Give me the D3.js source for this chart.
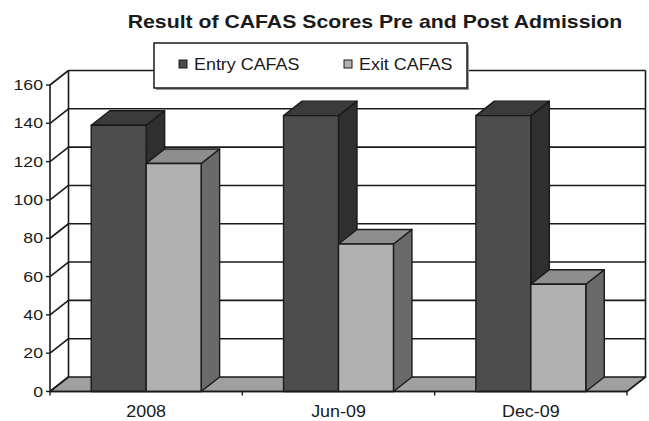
<!DOCTYPE html>
<html>
<head>
<meta charset="utf-8">
<script src="https://cdn.jsdelivr.net/npm/d3@7"></script>
<style>
  body { margin: 0; background: #fff; }
  svg text { font-family: "Liberation Sans", Arial, sans-serif; fill: #1a1a1a; }
</style>
</head>
<body>
<div id="chart"></div>
<script>
const categories  = ["2008", "Jun-09", "Dec-09"];
const seriesNames = ["Entry CAFAS", "Exit CAFAS"];
const entryValues = [139, 144, 144];
const exitValues  = [119, 77, 56];
const yTicks      = [0, 20, 40, 60, 80, 100, 120, 140, 160];

const W = 649, H = 421;
const PLOT = { left: 50, right: 627, top: 85, bottom: 391.5 };
const DX = 18.5, DY = -14.5;   // depth offset of the 3d box
const LINE = "#1a1a1a";

const COLORS = {
  "Entry CAFAS": { front: "#4d4d4d", top: "#3b3b3b", side: "#2f2f2f" },
  "Exit CAFAS":  { front: "#b0b1b0", top: "#8e8e8e", side: "#6a6a6a" }
};

const data = categories.map((c, i) => ({
  cat: c,
  values: [
    { series: seriesNames[0], value: entryValues[i] },
    { series: seriesNames[1], value: exitValues[i] }
  ]
}));

const svg = d3.select("#chart").append("svg")
  .attr("width", W).attr("height", H)
  .style("display", "block");

const x0 = d3.scaleBand().domain(categories).range([PLOT.left, PLOT.right]).padding(0);
const x1 = d3.scaleBand().domain(seriesNames).range([0, x0.bandwidth()])
  .paddingInner(0).paddingOuter(0.75);
const y = d3.scaleLinear().domain([0, 160]).range([PLOT.bottom, PLOT.top]);

const poly = pts => "M" + pts.map(p => p.join(",")).join("L") + "Z";

// ── Walls ──
const backL = PLOT.left + DX, backR = PLOT.right + DX;
svg.append("path")   // left wall
  .attr("d", poly([[PLOT.left, y(0)], [PLOT.left, y(160)], [backL, y(160) + DY], [backL, y(0) + DY]]))
  .attr("fill", "#fff");
svg.append("rect")   // back wall
  .attr("x", backL).attr("y", y(160) + DY)
  .attr("width", backR - backL).attr("height", y(0) - y(160))
  .attr("fill", "#fff");

// gridlines on back wall + left wall diagonals
const grid = svg.append("g").attr("stroke", LINE).attr("stroke-width", 1.6).attr("fill", "none");
grid.selectAll("line.back")
  .data(yTicks.filter(t => t > 0))
  .join("line")
  .attr("x1", backL).attr("x2", backR)
  .attr("y1", d => y(d) + DY).attr("y2", d => y(d) + DY);
grid.selectAll("line.diag")
  .data(yTicks)
  .join("line")
  .attr("x1", PLOT.left).attr("y1", d => y(d))
  .attr("x2", backL).attr("y2", d => y(d) + DY);
grid.append("line")
  .attr("x1", backL).attr("x2", backL).attr("y1", y(0) + DY).attr("y2", y(160) + DY);
grid.append("line")
  .attr("x1", backR).attr("x2", backR).attr("y1", y(0) + DY).attr("y2", y(160) + DY);

// ── Floor ──
svg.append("path")
  .attr("d", poly([[PLOT.left, y(0)], [PLOT.right, y(0)], [backR, y(0) + DY], [backL, y(0) + DY]]))
  .attr("fill", "#a0a0a0")
  .attr("stroke", LINE).attr("stroke-width", 1.6).attr("stroke-linejoin", "round");

// ── Bars ──
const barsG = svg.append("g")
  .attr("stroke", LINE).attr("stroke-width", 1.4).attr("stroke-linejoin", "round");

data.forEach(d => {
  d.values.forEach(v => {
    const xa = x0(d.cat) + x1(v.series);
    const xb = xa + x1.bandwidth();
    const yt = y(v.value), yb = y(0);
    const c = COLORS[v.series];
    barsG.append("path")
      .attr("d", poly([[xb, yb], [xb, yt], [xb + DX, yt + DY], [xb + DX, yb + DY]]))
      .attr("fill", c.side);
    barsG.append("path")
      .attr("d", poly([[xa, yt], [xb, yt], [xb + DX, yt + DY], [xa + DX, yt + DY]]))
      .attr("fill", c.top);
    barsG.append("rect")
      .attr("x", xa).attr("y", yt)
      .attr("width", xb - xa).attr("height", yb - yt)
      .attr("fill", c.front);
  });
});

// ── Y axis ──
const yAxisG = svg.append("g");
yAxisG.append("line")
  .attr("x1", PLOT.left).attr("x2", PLOT.left)
  .attr("y1", y(0)).attr("y2", y(160))
  .attr("stroke", LINE).attr("stroke-width", 1.6);
yAxisG.selectAll("line.tick")
  .data(yTicks)
  .join("line")
  .attr("x1", PLOT.left - 4).attr("x2", PLOT.left)
  .attr("y1", d => y(d)).attr("y2", d => y(d))
  .attr("stroke", LINE).attr("stroke-width", 1.4);
yAxisG.selectAll("text")
  .data(yTicks)
  .join("text")
  .attr("transform", d => `translate(${PLOT.left - 7},${y(d) + 5}) scale(1.22,1)`)
  .attr("text-anchor", "end")
  .style("font-size", "14.5px")
  .text(d => d);

// ── X axis ──
const xAxisG = svg.append("g");
xAxisG.append("line")
  .attr("x1", PLOT.left).attr("x2", PLOT.right)
  .attr("y1", y(0)).attr("y2", y(0))
  .attr("stroke", LINE).attr("stroke-width", 1.6);
const xTickPos = categories.map(c => x0(c)).concat([PLOT.right]);
xAxisG.selectAll("line.tick")
  .data(xTickPos)
  .join("line")
  .attr("x1", d => d).attr("x2", d => d)
  .attr("y1", y(0)).attr("y2", y(0) + 4)
  .attr("stroke", LINE).attr("stroke-width", 1.4);
xAxisG.selectAll("text")
  .data(categories)
  .join("text")
  .attr("transform", d => `translate(${x0(d) + x0.bandwidth() / 2},${y(0) + 25}) scale(1.12,1)`)
  .attr("text-anchor", "middle")
  .style("font-size", "16px")
  .text(d => d);

// ── Title ──
svg.append("text")
  .attr("transform", "translate(375,28) scale(1.18,1)")
  .attr("text-anchor", "middle")
  .style("font-size", "18px")
  .style("font-weight", "bold")
  .text("Result of CAFAS Scores Pre and Post Admission");

// ── Legend ──
const legend = svg.append("g").attr("transform", "translate(154,43)");
legend.append("rect")
  .attr("x", 2).attr("y", 2).attr("width", 313).attr("height", 45)
  .attr("fill", "#9a9a9a");
legend.append("rect")
  .attr("width", 313).attr("height", 45)
  .attr("fill", "#fff").attr("stroke", LINE).attr("stroke-width", 1.5);
const legendX = [25, 190];
seriesNames.forEach((s, i) => {
  legend.append("rect")
    .attr("x", legendX[i]).attr("y", 17).attr("width", 8).attr("height", 8)
    .attr("fill", COLORS[s].front).attr("stroke", LINE).attr("stroke-width", 1);
  legend.append("text")
    .attr("transform", `translate(${legendX[i] + 15},27) scale(1.12,1)`)
    .style("font-size", "16px")
    .text(s);
});
</script>
</body>
</html>
